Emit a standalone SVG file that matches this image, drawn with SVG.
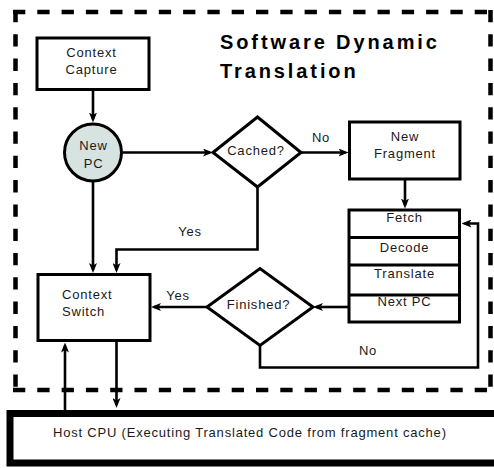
<svg xmlns="http://www.w3.org/2000/svg" width="494" height="468" viewBox="0 0 494 468">
  <style>
    .box { fill: #ffffff; stroke: #000000; stroke-width: 3; }
    .lbl { font-family: "Liberation Sans", Arial, Helvetica, sans-serif; font-size: 13px; letter-spacing: 0.8px; fill: #1a1a1a; }
    .mid { text-anchor: middle; }
    .title { font-family: "Liberation Sans", Arial, Helvetica, sans-serif; font-size: 20px; font-weight: bold; letter-spacing: 2.9px; fill: #000000; }
    .edge { fill: none; stroke: #000000; stroke-width: 2.6; marker-end: url(#arrow); }
    .dash { fill: none; stroke: #000000; stroke-width: 4.5; stroke-dasharray: 12.3 12; }
  </style>
  <defs>
    <marker id="arrow" markerUnits="userSpaceOnUse" viewBox="0 0 10 8" refX="7" refY="4" markerWidth="10" markerHeight="8" orient="auto">
      <path d="M0,0 L10,4 L0,8 L2.5,4 z" fill="#000000"/>
    </marker>
  </defs>

  <rect width="494" height="468" fill="#ffffff"/>

  <!-- dashed boundary of the translator -->
  <g id="boundary">
    <path class="dash" d="M13,12 H493"/>
    <path class="dash" d="M490.5,10 V392"/>
    <path class="dash" d="M13,390 H493"/>
    <path class="dash" d="M15.5,10 V392"/>
  </g>

  <g id="title">
    <text class="title" x="220" y="49">Software Dynamic</text>
    <text class="title" x="220" y="78">Translation</text>
  </g>

  <g id="context-capture">
    <rect class="box" x="37" y="38" width="112" height="51.5"/>
    <text class="lbl mid" x="91.5" y="56.5">Context</text>
    <text class="lbl mid" x="91.5" y="74">Capture</text>
  </g>

  <g id="new-pc">
    <circle cx="93" cy="152.5" r="28.5" fill="#d6e3e1" stroke="#000000" stroke-width="3"/>
    <text class="lbl mid" x="93.5" y="149.5">New</text>
    <text class="lbl mid" x="93.5" y="168">PC</text>
  </g>

  <g id="cached">
    <polygon class="box" points="213,152.5 257.5,117 301,152.5 257.5,187"/>
    <text class="lbl mid" x="256" y="154.5">Cached?</text>
  </g>

  <g id="new-fragment">
    <rect class="box" x="349.5" y="122" width="110.5" height="57"/>
    <text class="lbl mid" x="405" y="140.5">New</text>
    <text class="lbl mid" x="405" y="157.5">Fragment</text>
  </g>

  <g id="fragment-steps">
    <rect class="box" x="349" y="210" width="110.5" height="112"/>
    <path d="M349,237.5 H459.5 M349,265 H459.5 M349,295 H459.5" stroke="#000000" stroke-width="3" fill="none"/>
    <text class="lbl mid" x="404.5" y="221.5">Fetch</text>
    <text class="lbl mid" x="404.5" y="251.5">Decode</text>
    <text class="lbl mid" x="404.5" y="278">Translate</text>
    <text class="lbl mid" x="404.5" y="306">Next PC</text>
  </g>

  <g id="finished">
    <polygon class="box" points="207,307 260,268.5 313,307 260,345.5"/>
    <text class="lbl mid" x="258.5" y="308.5">Finished?</text>
  </g>

  <g id="context-switch">
    <rect class="box" x="38" y="274.5" width="112" height="66"/>
    <text class="lbl" x="62" y="298.5">Context</text>
    <text class="lbl" x="62" y="316">Switch</text>
  </g>

  <g id="host-cpu">
    <rect x="10" y="413.5" width="490" height="49.5" fill="#ffffff" stroke="#000000" stroke-width="7"/>
    <text class="lbl" x="53" y="436.5">Host CPU (Executing Translated Code from fragment cache)</text>
  </g>

  <g id="connectors">
    <path class="edge" d="M93,90 V119.5"/>
    <path class="edge" d="M123,152.5 H210"/>
    <path class="edge" d="M301,152.5 H345.5"/>
    <path class="edge" d="M405,179 V205.5"/>
    <path class="edge" d="M257.5,187 V249.5 H116.5 V270"/>
    <path class="edge" d="M93,181 V270"/>
    <path class="edge" d="M348,307 H316"/>
    <path class="edge" d="M207,307 H154"/>
    <path class="edge" d="M260,345.5 V367.5 H478 V223.5 H464.5"/>
    <path class="edge" d="M65,410 V345.5"/>
    <path class="edge" d="M116.5,342 V405"/>
    <g class="lbl">
      <text class="mid" x="321" y="142">No</text>
      <text class="mid" x="190" y="236">Yes</text>
      <text class="mid" x="178" y="300">Yes</text>
      <text class="mid" x="368" y="355">No</text>
    </g>
  </g>
</svg>
